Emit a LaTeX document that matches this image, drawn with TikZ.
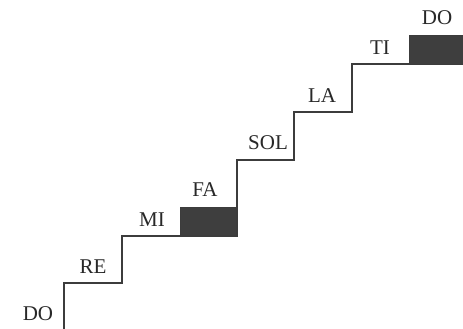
\documentclass[tikz,border=0pt]{standalone}
\usepackage{fontspec}
\setmainfont{Liberation Serif}
\definecolor{stairline}{RGB}{60,60,60}
\definecolor{boxfill}{RGB}{62,62,62}
\definecolor{labeltext}{RGB}{40,40,40}
\begin{document}
\begin{tikzpicture}[x=1pt,y=-1pt,
  stair/.style={draw=stairline,line width=1.2pt,line join=miter},
  halfbox/.style={fill=boxfill,draw=stairline,line width=0.6pt},
  notelabel/.style={font=\fontsize{21}{23}\selectfont,text=labeltext,inner sep=0pt}]
\useasboundingbox (0,0) rectangle (463,329);
\fill[white] (0,0) rectangle (463,329);
% half-step boxes
\path[halfbox] (180,207) rectangle (237,236);
\path[halfbox] (409,35) rectangle (463,64);
% staircase
\path[stair] (64,329) -- (64,283) -- (122,283) -- (122,236) -- (180,236)
  -- (237,236) -- (237,160) -- (294,160) -- (294,112) -- (352,112)
  -- (352,64) -- (409,64);
% labels
\node[notelabel] (do1) at (38,314) {DO};
\node[notelabel] (re) at (93,267) {RE};
\node[notelabel] (mi) at (152,220) {MI};
\node[notelabel] (fa) at (205,190) {FA};
\node[notelabel] (sol) at (268,143) {SOL};
\node[notelabel] (la) at (322,96) {LA};
\node[notelabel] (ti) at (380,48) {TI};
\node[notelabel] (do2) at (437,18) {DO};
\end{tikzpicture}
\end{document}
